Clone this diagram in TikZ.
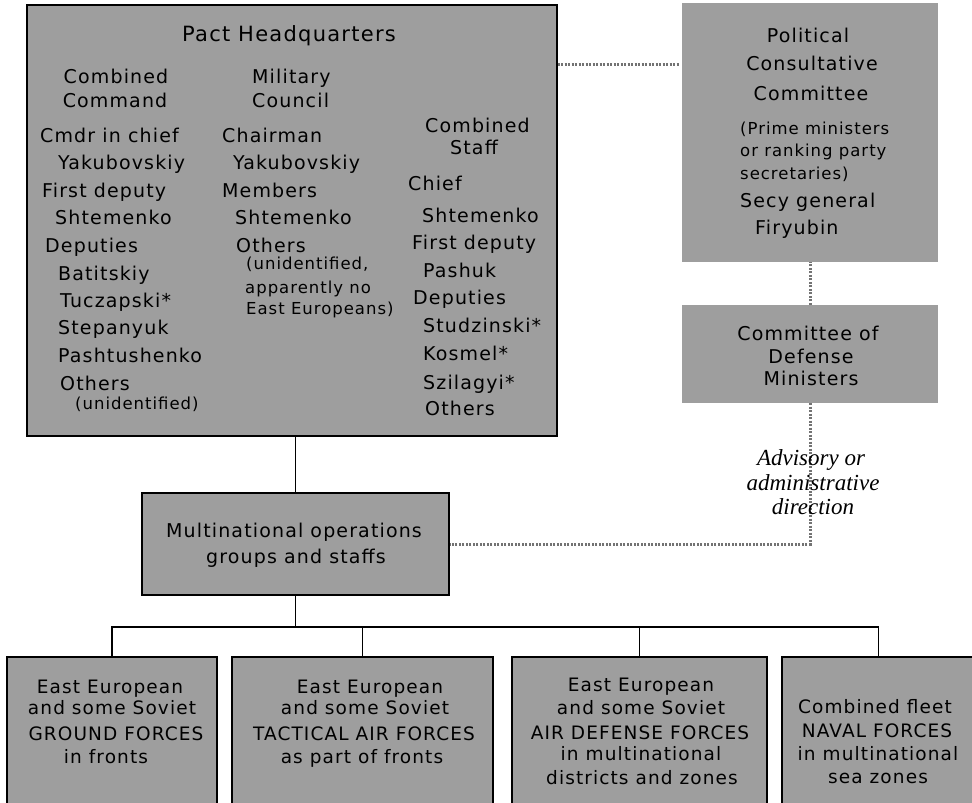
\documentclass[tikz,border=0pt]{standalone}
\usepackage{fontspec}
\setmainfont{DejaVu Sans}[LetterSpace=6]
\newfontfamily\advfont{Liberation Serif}
\begin{document}
\begin{tikzpicture}[x=1pt,y=-1pt,
  box/.style={draw=black, line width=1.4pt, fill=black!38, inner sep=0pt},
  sbox/.style={fill=black!38, inner sep=0pt},
  t/.style={inner sep=0pt, font=\fontsize{19}{22}\selectfont},
  ts/.style={inner sep=0pt, font=\fontsize{16.5}{19}\selectfont},
  tt/.style={inner sep=0pt, font=\fontsize{21}{24}\selectfont},
  tb/.style={inner sep=0pt, font=\fontsize{18.5}{21}\selectfont},
  adv/.style={inner sep=0pt, font=\advfont\itshape\fontsize{23}{25}\selectfont},
  conn/.style={line width=1.3pt},
  dotline/.style={line width=3pt, black!55, dash pattern=on 2pt off 1.5pt}
]
\useasboundingbox (0,0) rectangle (972,803);
\clip (0,0) rectangle (972,803);

% boxes
\node[box, minimum width=530pt, minimum height=431pt] (hq) at (292,220.5) {};
\node[sbox, minimum width=256pt, minimum height=259pt] (pcc) at (810,132.5) {};
\node[sbox, minimum width=256pt, minimum height=98pt] (cdm) at (810,354) {};
\node[box, minimum width=307pt, minimum height=102pt] (multi) at (295.5,544) {};
\node[box, minimum width=210pt, minimum height=203pt] (b1) at (112,758.5) {};
\node[box, minimum width=261pt, minimum height=203pt] (b2) at (362.5,758.5) {};
\node[box, minimum width=255pt, minimum height=203pt] (b3) at (639.5,758.5) {};
\node[box, minimum width=193pt, minimum height=203pt] (b4) at (878.5,758.5) {};

% connectors
\coordinate (pccl) at (680,64);
\coordinate (bus) at (0,627);
\draw[dotline] (hq.east |- pccl) -- (pccl);
\draw[dotline] (cdm.north) -- (cdm.north |- pcc.south);
\draw[dotline] (cdm.south) -- (cdm.south |- multi.east) -- (multi.east);
\draw[conn] (multi.north) -- (multi.north |- hq.south);
\draw[conn] (multi.south) -- (multi.south |- bus);
\draw[conn] (b1.north) -- (b1.north |- bus) -- (b4.north |- bus) -- (b4.north);
\draw[conn] (b2.north) -- (b2.north |- bus);
\draw[conn] (b3.north) -- (b3.north |- bus);

% HQ texts
\node[tt, anchor=base] (hqt) at (289,41) {Pact Headquarters};
\node[t, anchor=base] (c1a) at (116,83) {Combined};
\node[t, anchor=base] (c1b) at (115,107) {Command};
\node[t, anchor=base west] (c1c) at (40,142) {Cmdr in chief};
\node[t, anchor=base west] (c1d) at (58,169) {Yakubovskiy};
\node[t, anchor=base west] (c1e) at (42,197) {First deputy};
\node[t, anchor=base west] (c1f) at (55,224) {Shtemenko};
\node[t, anchor=base west] (c1g) at (45,252) {Deputies};
\node[t, anchor=base west] (c1h) at (58,280) {Batitskiy};
\node[t, anchor=base west] (c1i) at (60,307) {Tuczapski*};
\node[t, anchor=base west] (c1j) at (58,334) {Stepanyuk};
\node[t, anchor=base west] (c1k) at (58,362) {Pashtushenko};
\node[t, anchor=base west] (c1l) at (60,390) {Others};
\node[ts, anchor=base west] (c1m) at (75,409) {(unidentified)};

\node[t, anchor=base west] (c2a) at (252,83) {Military};
\node[t, anchor=base west] (c2b) at (252,107) {Council};
\node[t, anchor=base west] (c2c) at (222,142) {Chairman};
\node[t, anchor=base west] (c2d) at (233,169) {Yakubovskiy};
\node[t, anchor=base west] (c2e) at (222,197) {Members};
\node[t, anchor=base west] (c2f) at (235,224) {Shtemenko};
\node[t, anchor=base west] (c2g) at (236,252) {Others};
\node[ts, anchor=base west] (c2h) at (246,269) {(unidentified,};
\node[ts, anchor=base west] (c2i) at (245,293) {apparently no};
\node[ts, anchor=base west] (c2j) at (246,314) {East Europeans)};

\node[t, anchor=base west] (c3a) at (425,132) {Combined};
\node[t, anchor=base west] (c3b) at (450,154) {Staff};
\node[t, anchor=base west] (c3c) at (408,190) {Chief};
\node[t, anchor=base west] (c3d) at (422,222) {Shtemenko};
\node[t, anchor=base west] (c3e) at (412,249) {First deputy};
\node[t, anchor=base west] (c3f) at (423,277) {Pashuk};
\node[t, anchor=base west] (c3g) at (413,304) {Deputies};
\node[t, anchor=base west] (c3h) at (423,332) {Studzinski*};
\node[t, anchor=base west] (c3i) at (423,360) {Kosmel*};
\node[t, anchor=base west] (c3j) at (423,389) {Szilagyi*};
\node[t, anchor=base west] (c3k) at (425,415) {Others};

% PCC texts
\node[t, anchor=base] (p1) at (808,42) {Political};
\node[t, anchor=base] (p2) at (812,70) {Consultative};
\node[t, anchor=base] (p3) at (811,100) {Committee};
\node[ts, anchor=base west] (p4) at (740,134) {(Prime ministers};
\node[ts, anchor=base west] (p5) at (740,156) {or ranking party};
\node[ts, anchor=base west] (p6) at (740,179) {secretaries)};
\node[t, anchor=base west] (p7) at (740,207) {Secy general};
\node[t, anchor=base west] (p8) at (755,234) {Firyubin};

% CDM texts
\node[t, anchor=base] (d1) at (808,340) {Committee of};
\node[t, anchor=base] (d2) at (811,363) {Defense};
\node[t, anchor=base] (d3) at (811,385) {Ministers};

% Advisory label
\node[adv, anchor=base] (a1) at (811,465) {Advisory or};
\node[adv, anchor=base] (a2) at (813,490) {administrative};
\node[adv, anchor=base] (a3) at (813,514) {direction};

% Multinational
\node[t, anchor=base] (m1) at (294,537) {Multinational operations};
\node[t, anchor=base] (m2) at (296,563) {groups and staffs};

% bottom boxes
\node[tb, anchor=base] (g1) at (110,693) {East European};
\node[tb, anchor=base] (g2) at (112,714) {and some Soviet};
\node[tb, anchor=base] (g3) at (116,740) {GROUND FORCES};
\node[tb, anchor=base] (g4) at (106,763) {in fronts};

\node[tb, anchor=base] (h1) at (370,693) {East European};
\node[tb, anchor=base] (h2) at (365,714) {and some Soviet};
\node[tb, anchor=base] (h3) at (364,740) {TACTICAL AIR FORCES};
\node[tb, anchor=base] (h4) at (362,763) {as part of fronts};

\node[tb, anchor=base] (k1) at (641,691) {East European};
\node[tb, anchor=base] (k2) at (641,714) {and some Soviet};
\node[tb, anchor=base] (k3) at (640,739) {AIR DEFENSE FORCES};
\node[tb, anchor=base] (k4) at (641,760) {in multinational};
\node[tb, anchor=base] (k5) at (642,784) {districts and zones};

\node[tb, anchor=base] (n1) at (875,713) {Combined fleet};
\node[tb, anchor=base] (n2) at (877,737) {NAVAL FORCES};
\node[tb, anchor=base] (n3) at (878,760) {in multinational};
\node[tb, anchor=base] (n4) at (878,783) {sea zones};
\end{tikzpicture}
\end{document}
